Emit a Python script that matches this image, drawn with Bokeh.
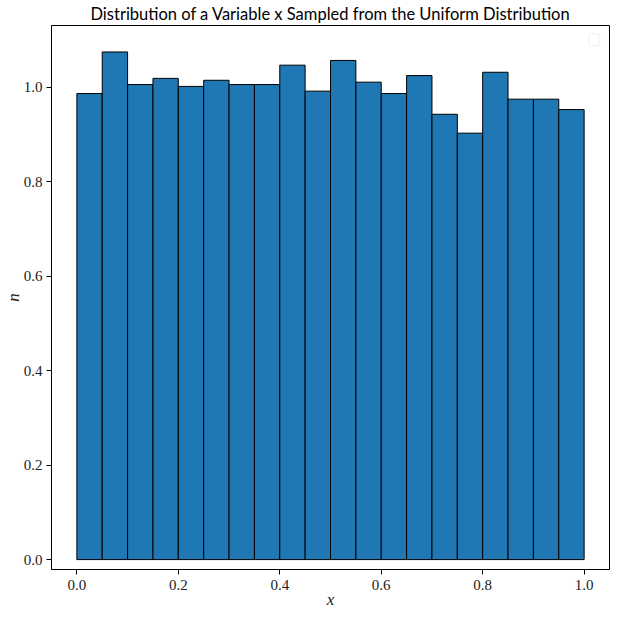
from bokeh.plotting import figure
from bokeh.models import Range1d, FixedTicker, BoxAnnotation, CustomJSTickFormatter
from bokeh.embed import file_html
from bokeh.resources import INLINE

# histogram data (density per bin), 20 bins over [0, 1]
bin_edges = [i / 20 for i in range(21)]
densities = [0.987, 1.075, 1.006, 1.019, 1.002, 1.015, 1.006, 1.006, 1.047, 0.992,
             1.057, 1.011, 0.987, 1.025, 0.943, 0.903, 1.032, 0.975, 0.975, 0.953]
x_ticks = [0.0, 0.2, 0.4, 0.6, 0.8, 1.0]
y_ticks = [0.0, 0.2, 0.4, 0.6, 0.8, 1.0]
title_text = "Distribution of a Variable x Sampled from the Uniform Distribution"
x_label = "x"
y_label = "n"

p = figure(frame_width=558, frame_height=544, output_backend="svg", toolbar_location=None,
           x_range=Range1d(-0.05, 1.05), y_range=Range1d(-0.021, 1.131),
           min_border_left=0, min_border_right=9, min_border_top=0, min_border_bottom=0,
           title=title_text)

p.quad(left=bin_edges[:-1], right=bin_edges[1:], bottom=0, top=densities,
       fill_color="#1f77b4", line_color="black", line_width=1)

# empty legend frame (as in the reference)
p.add_layout(BoxAnnotation(left=1.009, right=1.031, bottom=1.088, top=1.1136,
                           fill_color="white", fill_alpha=0.8, line_color="#cccccc",
                           line_width=1, border_radius=3))

p.title.text_font = "Lato"
p.title.text_font_size = "16.5px"
p.title.text_font_style = "normal"
p.title.align = "center"
p.title.text_color = "black"
p.title.standoff = 3

p.xgrid.visible = False
p.ygrid.visible = False
p.outline_line_color = "black"
p.outline_line_width = 1

for ax, ticks, lab in ((p.xaxis[0], x_ticks, x_label), (p.yaxis[0], y_ticks, y_label)):
    ax.ticker = FixedTicker(ticks=ticks)
    ax.minor_tick_line_color = None
    ax.major_tick_out = 5
    ax.major_tick_in = 0
    ax.major_tick_line_color = "black"
    ax.axis_line_color = "black"
    ax.major_label_text_font = "Liberation Serif"
    ax.major_label_text_font_size = "15px"
    ax.major_label_text_color = "#222222"
    ax.formatter = CustomJSTickFormatter(code="return tick.toFixed(1);")
    ax.axis_label = lab
    ax.axis_label_text_font = "Liberation Serif"
    ax.axis_label_text_font_style = "italic"
    ax.axis_label_text_font_size = "17px"
    ax.axis_label_text_color = "#222222"

p.yaxis.major_label_orientation = "horizontal"
p.yaxis.major_label_standoff = 4
p.yaxis.axis_label_standoff = -2
p.xaxis.major_label_standoff = 5
p.xaxis.axis_label_standoff = -3

open("out.html", "w").write(file_html(p, INLINE))
